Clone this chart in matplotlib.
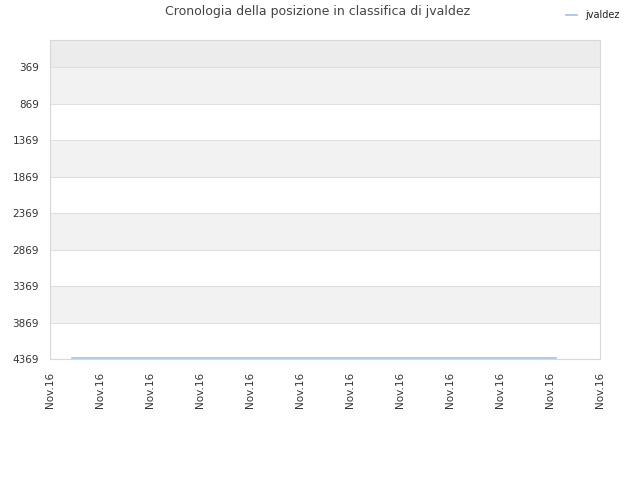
import matplotlib
matplotlib.use("Agg")
import matplotlib.pyplot as plt

# Data
x_labels = ["Nov.16"] * 12
x_ticks = list(range(12))
series_name = "jvaldez"
series_x = [0.44, 10.12]
series_rank = [4362, 4362]
y_ticks = [369, 869, 1369, 1869, 2369, 2869, 3369, 3869, 4369]

fig = plt.figure(figsize=(6.4, 4.8), dpi=100)
ax = fig.add_axes([50/640, 1-359/480, 550/640, 319/480])

ymin, ymax = -1, 4369
ax.set_ylim(ymax, ymin)
ax.set_xlim(0, 11)

# bands
ax.axhspan(ymin, 369, color="#ececec", zorder=0, lw=0)
for i in range(len(y_ticks) - 1):
    if i % 2 == 0:
        ax.axhspan(y_ticks[i], y_ticks[i+1], color="#f2f2f2", zorder=0, lw=0)

for yv in y_ticks:
    ax.axhline(yv, color="#e0e0e0", lw=0.8, zorder=1)

ax.plot(series_x, series_rank, color="#a0c4e6", lw=1.2, zorder=3, label=series_name)

ax.set_yticks(y_ticks)
ax.set_yticklabels([str(v) for v in y_ticks], fontsize=7.5, color="#333333")
ax.set_xticks(x_ticks)
ax.set_xticklabels(x_labels, rotation=90, fontsize=7.5, color="#333333")
ax.tick_params(axis="both", length=0)
ax.tick_params(axis="y", pad=8)
ax.tick_params(axis="x", pad=9.5)

for s in ax.spines.values():
    s.set_color("#d8d8d8")
    s.set_linewidth(0.8)

fig.text(318/640, 1-12/480, "Cronologia della posizione in classifica di jvaldez",
         ha="center", va="center", fontsize=9, color="#444444")

leg = fig.legend(loc="center left", bbox_to_anchor=(557/640, 1-15/480), frameon=False,
                 fontsize=7, handlelength=1.2, handletextpad=0.8)
for t in leg.get_texts():
    t.set_color("#222222")

fig.savefig("out.png", dpi=100)
